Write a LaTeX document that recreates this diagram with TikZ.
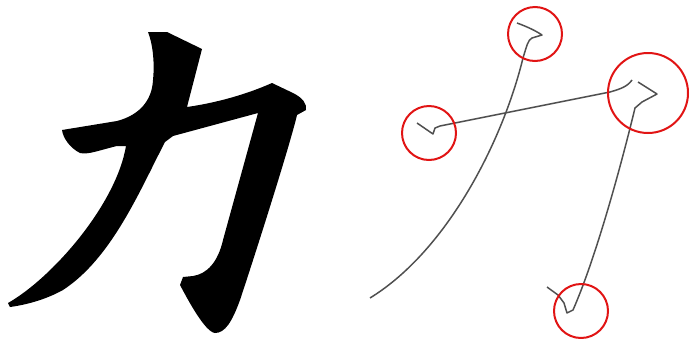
\documentclass[tikz,border=0pt]{standalone}
\usepackage{tikz}
\usetikzlibrary{arrows.meta,calc,positioning}

\definecolor{skelgray}{RGB}{80,80,80}
\definecolor{ringred}{RGB}{225,20,20}

\begin{document}
\begin{tikzpicture}[x=1pt,y=-1pt,
    glyph/.style={fill=black},
    skel/.style={draw=skelgray,line width=1.5pt,line join=round},
    ring/.style={draw=ringred,line width=2pt}]
  \useasboundingbox (0,0) rectangle (690,338);
  % brush glyph
  \fill[glyph] (148,32) -- (167,32) -- (202,49) -- (187,107)
      .. controls (215,103) and (245,95) .. (272,83)
      -- (293,93) .. controls (303,98) and (307,104) .. (306,110) -- (297,115)
      .. controls (290,145) and (255,255) .. (240,300)
      .. controls (232,322) and (225,333) .. (215,333)
      .. controls (205,332) and (188,300) .. (180,285) -- (183,277) -- (193,276)
      .. controls (207,274) and (218,262) .. (223,240) -- (258,113)
      -- (173,136) -- (165,142)
      .. controls (140,190) and (112,258) .. (63,290)
      .. controls (45,300) and (25,305) .. (10,307) -- (8,303)
      .. controls (52,278) and (116,205) .. (126,146)
      -- (117,146) .. controls (100,150) and (88,155) .. (80,153)
      .. controls (70,148) and (63,138) .. (62,130) -- (117,121)
      .. controls (140,115) and (152,100) .. (153,80)
      .. controls (155,60) and (152,42) .. (148,32) -- cycle;
  % skeleton
  \draw[skel] (517,23) .. controls (528,27) and (536,31) .. (542,35) -- (532,38)
      .. controls (528,40) and (527,45) .. (523,58)
      .. controls (503,140) and (448,250) .. (370,298);
  \draw[skel] (417,123) -- (433,134) -- (435,128) -- (440,126) -- (610,92)
      .. controls (620,89) and (627,87) .. (632,80);
  \draw[skel] (638,82) -- (657,94) -- (642,102) -- (635,108)
      .. controls (620,170) and (595,260) .. (573,310)
      -- (567,313) -- (564,303) -- (558,295) -- (547,287);
  % marked ends
  \coordinate (top) at (535,34);
  \coordinate (left) at (429,133);
  \coordinate (right) at (648,93);
  \coordinate (bottom) at (581,311);
  \draw[ring] (top) circle (27);
  \draw[ring] (left) circle (27);
  \draw[ring] (right) circle (40);
  \draw[ring] (bottom) circle (27);
\end{tikzpicture}
\end{document}
